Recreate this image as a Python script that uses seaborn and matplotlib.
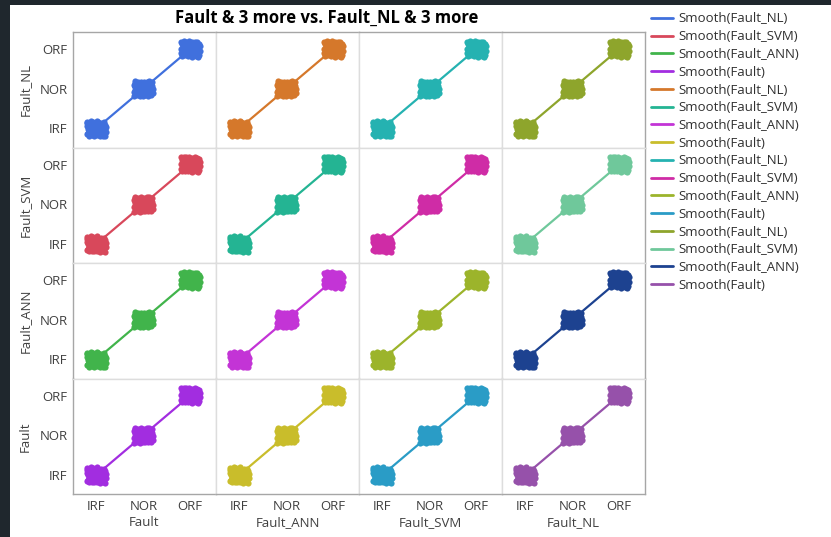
import numpy as np
import pandas as pd
import matplotlib
matplotlib.use("Agg")
import matplotlib.pyplot as plt
from matplotlib.lines import Line2D
from matplotlib.patches import Rectangle
import seaborn as sns

# Fault classes and how many samples fall in each
categories = ["IRF", "NOR", "ORF"]
class_counts = [60, 60, 60]

# Model outputs (each model agrees with the true fault label)
fault = np.repeat(categories, class_counts)
fault_nl = fault.copy()
fault_svm = fault.copy()
fault_ann = fault.copy()

row_vars = ["Fault_NL", "Fault_SVM", "Fault_ANN", "Fault"]
col_vars = ["Fault", "Fault_ANN", "Fault_SVM", "Fault_NL"]

# one colour per panel, row by row
panel_colors = [
    ["#4070DD", "#D5782B", "#25B2B1", "#8EA52C"],
    ["#D8485B", "#24B493", "#CF2CA6", "#6FC89B"],
    ["#41B44B", "#C334D6", "#9CB42B", "#1D4290"],
    ["#A22DE0", "#C9BD2B", "#2A9CC6", "#9651AA"],
]

legend_title = "Smooth"
title_text = "Fault & 3 more vs. Fault_NL & 3 more"

df = pd.DataFrame({"Fault": fault, "Fault_NL": fault_nl,
                   "Fault_SVM": fault_svm, "Fault_ANN": fault_ann})
codes = {c: i for i, c in enumerate(categories)}

# deterministic 2-D jitter (low-discrepancy R2 sequence) for the point clouds
n = len(df)
g = 1.32471795724474602596
k = np.arange(1, n + 1)
jx = ((0.5 + k / g) % 1.0 - 0.5) * 0.42
jy = ((0.5 + k / g ** 2) % 1.0 - 0.5) * 0.40

sns.set_theme(style="white")
plt.rcParams["font.family"] = ["Open Sans", "DejaVu Sans"]

W, H = 831, 537
fig = plt.figure(figsize=(W / 100, H / 100), dpi=100)
fig.patch.set_facecolor("white")

left, right, top, bottom = 73, 645, 32, 494
axes = fig.subplots(4, 4, sharex=True, sharey=True)
fig.subplots_adjust(left=left / W, right=right / W, top=1 - top / H,
                    bottom=1 - bottom / H, wspace=0, hspace=0)

inner = "#DDDDDD"
outer = "#A6A6A6"
tick_color = "#404040"

for i, rv in enumerate(row_vars):
    for j, cv in enumerate(col_vars):
        ax = axes[i, j]
        col = panel_colors[i][j]
        xc = df[cv].map(codes).to_numpy()
        yc = df[rv].map(codes).to_numpy()
        pts = pd.DataFrame({"x": xc + jx, "y": yc + jy})
        sns.scatterplot(data=pts, x="x", y="y", color=col, s=20,
                        linewidth=0, ax=ax, zorder=3)
        sns.lineplot(x=xc, y=yc, color=col, linewidth=1.6, errorbar=None,
                     estimator="mean", ax=ax, zorder=2)
        ax.set_xlim(-0.5, 2.55)
        ax.set_ylim(-0.48, 2.43)
        ax.set_xticks(range(len(categories)))
        ax.set_yticks(range(len(categories)))
        ax.set_xticklabels(categories)
        ax.set_yticklabels(categories)
        ax.set_xlabel("")
        ax.set_ylabel("")
        ax.tick_params(length=0, labelsize=9.5, colors=tick_color, pad=4)
        for side in ["top", "bottom", "left", "right"]:
            ax.spines[side].set_color(inner)
            ax.spines[side].set_linewidth(1.0)
        if i == 0:
            ax.spines["top"].set_color(outer)
        if i == 3:
            ax.spines["bottom"].set_color(outer)
        if j == 0:
            ax.spines["left"].set_color(outer)
        if j == 3:
            ax.spines["right"].set_color(outer)

# axis titles
row_h = (bottom - top) / 4
col_w = (right - left) / 4
for i, rv in enumerate(row_vars):
    yc = top + row_h * (i + 0.5)
    fig.text(25 / W, 1 - yc / H, rv, rotation=90, ha="center", va="center",
             fontsize=9.5, color=tick_color)
for j, cv in enumerate(col_vars):
    xc = left + col_w * (j + 0.5)
    fig.text(xc / W, 1 - 523 / H, cv, ha="center", va="center",
             fontsize=9.5, color=tick_color)

fig.text(327 / W, 1 - 18 / H, title_text, ha="center", va="center",
         fontsize=12, fontweight="bold", color="black")

# legend, column by column
handles, labels = [], []
for j in range(4):
    for i in range(4):
        handles.append(Line2D([0], [0], color=panel_colors[i][j], linewidth=2))
        labels.append(f"{legend_title}({row_vars[i]})")
fs = 9.5
fig.legend(handles, labels, loc="upper left",
           bbox_to_anchor=(651 / W, 1 - 12.5 / H), frameon=False,
           fontsize=fs, handlelength=1.7, handletextpad=0.4,
           labelspacing=0.36, borderpad=0, borderaxespad=0,
           labelcolor="#303030")

# dark window frame along the top and left edges
frame = "#1F272D"
fig.patches.append(Rectangle((0, 1 - 5 / H), 1, 5 / H, transform=fig.transFigure,
                             facecolor=frame, edgecolor="none", zorder=10))
fig.patches.append(Rectangle((0, 0), 10 / W, 1, transform=fig.transFigure,
                             facecolor=frame, edgecolor="none", zorder=10))

fig.savefig("out.png", dpi=100)
